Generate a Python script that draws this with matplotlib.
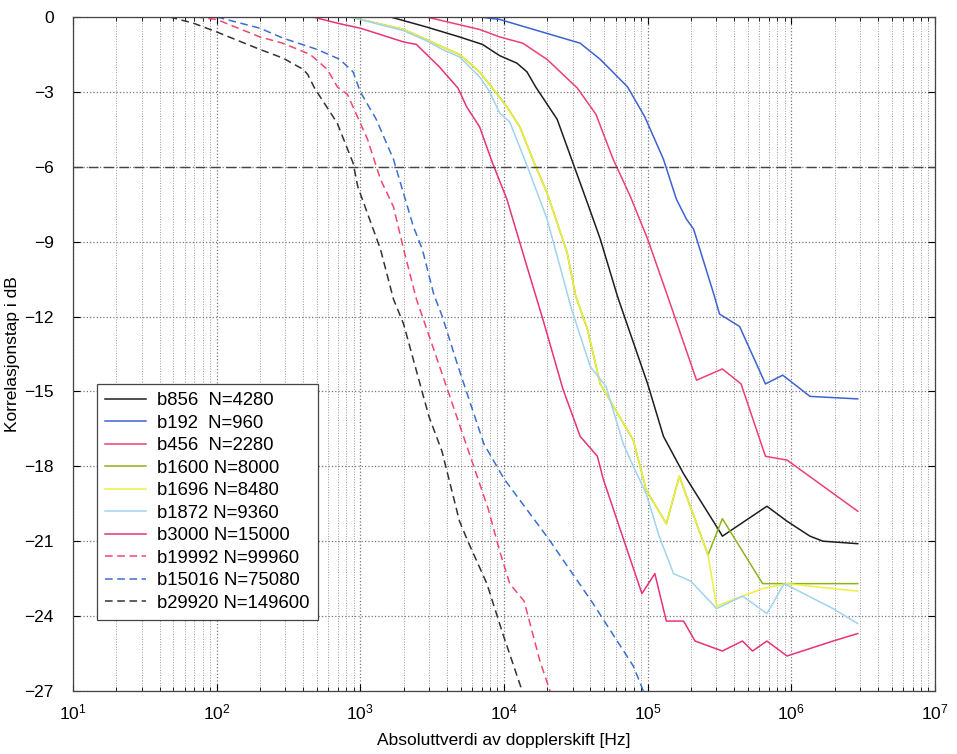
import numpy as np
import matplotlib.pyplot as plt
from matplotlib.ticker import LogLocator, NullFormatter

plt.rcParams['font.family'] = ['Liberation Sans', 'DejaVu Sans']

# data: frequency [Hz], loss [dB]
f_b856 = [1620, 2880, 4900, 7080, 9330, 12300, 14450, 16600, 23440, 30200, 38900, 46800,
          61700, 100000, 128800, 177800, 316200, 331100, 676100, 933300, 1349000, 1660000, 2900000]
db_b856 = [0, -0.4, -0.8, -1.1, -1.55, -1.85, -2.2, -2.8, -4.1, -5.85, -7.6, -8.9,
           -11.2, -14.7, -16.8, -18.3, -20.6, -20.8, -19.6, -20.2, -20.8, -21.0, -21.1]

f_b192 = [6760, 9330, 33880, 46800, 72400, 95500, 128800, 158500, 186200, 208900, 288400,
          316200, 436500, 660700, 871000, 1349000, 2900000]
db_b192 = [0, -0.1, -1.05, -1.7, -2.8, -4.0, -5.7, -7.3, -8.1, -8.5, -11.1,
           -11.9, -12.4, -14.7, -14.35, -15.2, -15.3]

f_b456 = [2880, 6760, 9330, 13490, 19950, 32400, 43650, 57500, 75900, 100000, 138000,
          218800, 331100, 446700, 660700, 933300, 2900000]
db_b456 = [0, -0.5, -0.8, -1.05, -1.7, -2.85, -3.9, -5.7, -7.2, -8.9, -11.2,
           -14.55, -14.1, -14.7, -17.6, -17.75, -19.8]

f_b1600 = [851, 2000, 2880, 3720, 4900, 6760, 8320, 10470, 12880, 15850, 19950, 27540,
           31620, 38020, 46770, 79430, 97720, 134900, 166000, 263000, 331100, 631000,
           933300, 2900000]
db_b1600 = [0, -0.5, -0.9, -1.2, -1.5, -2.2, -2.85, -3.6, -4.4, -5.7, -7.05, -9.45,
            -11.2, -12.5, -14.7, -16.95, -18.95, -20.3, -18.4, -21.55, -20.1, -22.7,
            -22.7, -22.7]

f_b1696 = [851, 2000, 2880, 3720, 4900, 6760, 8320, 10470, 12880, 15850, 19950, 27540,
           31620, 38020, 46770, 79430, 97720, 134900, 166000, 263000, 302000, 457100,
           631000, 933300, 1950000, 2900000]
db_b1696 = [0, -0.5, -0.9, -1.2, -1.5, -2.2, -2.85, -3.6, -4.4, -5.7, -7.05, -9.45,
            -11.2, -12.5, -14.7, -16.95, -18.95, -20.3, -18.4, -21.55, -23.6, -23.2,
            -22.9, -22.7, -22.9, -23.0]

f_b1872 = [851, 2000, 2880, 3720, 4900, 6760, 7940, 9330, 10960, 14790, 19950, 29510,
           39810, 51300, 67600, 75860, 97720, 120200, 151400, 199500, 302000, 457100,
           676100, 891300, 1950000, 2900000]
db_b1872 = [0, -0.55, -0.95, -1.3, -1.6, -2.4, -3.0, -3.85, -4.2, -6.1, -8.1, -11.7,
            -14.0, -14.8, -17.1, -17.75, -19.1, -20.8, -22.3, -22.6, -23.7, -23.2,
            -23.9, -22.7, -23.7, -24.3]

f_b3000 = [468, 692, 1000, 2000, 2455, 3548, 4786, 5495, 6761, 8318, 10470, 14450, 18620,
           25700, 33880, 44670, 48980, 64570, 91200, 112200, 134900, 177800, 213800,
           331100, 457100, 537000, 676100, 933300, 1950000, 2900000]
db_b3000 = [0, -0.25, -0.45, -1.0, -1.1, -2.0, -2.85, -3.6, -4.4, -5.85, -7.3, -10.0, -12.1,
            -14.9, -16.8, -17.6, -18.5, -20.55, -23.1, -22.3, -24.2, -24.2, -25.0,
            -25.4, -25.0, -25.4, -25.0, -25.6, -25.0, -24.7]

f_b19992 = [72, 100, 200, 288, 447, 589, 692, 813, 955, 1122, 1380, 1700, 2000, 2455,
            3236, 5012, 7762, 9333, 10965, 13800, 17780, 20900]
db_b19992 = [0, -0.1, -0.8, -1.05, -1.5, -2.1, -2.8, -3.1, -4.0, -4.9, -6.5, -7.6, -9.3, -11.3,
             -13.3, -16.5, -19.7, -21.4, -22.7, -23.4, -25.8, -27.0]

f_b15016 = [100, 200, 290, 500, 720, 890, 1000, 1290, 1700, 2340, 2700, 3240, 3720, 4790,
            7240, 10000, 20400, 41700, 79400, 93300]
db_b15016 = [0, -0.45, -0.85, -1.3, -1.7, -2.2, -3.0, -4.1, -5.7, -8.4, -9.3, -11.1, -12.0,
             -14.0, -17.1, -18.5, -20.9, -23.5, -26.0, -27.0]

f_b29920 = [47, 69, 100, 200, 290, 400, 430, 480, 690, 890, 960, 1380, 1700, 2000, 3000,
            3700, 4900, 5600, 7600, 9800, 13200]
db_b29920 = [0, -0.25, -0.6, -1.3, -1.65, -2.1, -2.3, -2.85, -4.25, -5.85, -6.8, -9.3, -11.3,
             -12.3, -16.0, -17.4, -20.2, -21.0, -22.7, -24.7, -26.9]

x_ticks = [1e1, 1e2, 1e3, 1e4, 1e5, 1e6, 1e7]

series = [
    ('b856  N=4280', f_b856, db_b856, '#1e1e1e', '-'),
    ('b192  N=960', f_b192, db_b192, '#3c62d2', '-'),
    ('b456  N=2280', f_b456, db_b456, '#ee3f72', '-'),
    ('b1600 N=8000', f_b1600, db_b1600, '#8cb21e', '-'),
    ('b1696 N=8480', f_b1696, db_b1696, '#eef03a', '-'),
    ('b1872 N=9360', f_b1872, db_b1872, '#9fd3f0', '-'),
    ('b3000 N=15000', f_b3000, db_b3000, '#e83278', '-'),
    ('b19992 N=99960', f_b19992, db_b19992, '#f2476a', '--'),
    ('b15016 N=75080', f_b15016, db_b15016, '#3a6fd0', '--'),
    ('b29920 N=149600', f_b29920, db_b29920, '#333333', '--'),
]

fig = plt.figure(figsize=(9.57, 7.54), dpi=100)
ax = fig.add_axes([0.0763, 0.0836, 0.9007, 0.8939])

for lab, f, d, c, ls in series:
    if ls == '--':
        ax.semilogx(f, d, color=c, linestyle=ls, dashes=(5, 3), linewidth=1.1, label=lab)
    else:
        ax.semilogx(f, d, color=c, linestyle=ls, linewidth=1.1, label=lab)

ax.axhline(-6, color='#444444', linestyle='--', dashes=(7, 4), linewidth=1.0)

ax.set_xlim(10, 1e7)
ax.set_ylim(-27, 0)
ax.set_yticks(np.arange(-27, 1, 3))
ax.set_xticks(x_ticks)
ax.xaxis.set_minor_locator(LogLocator(base=10, subs=np.arange(2, 10), numticks=100))
ax.xaxis.set_minor_formatter(NullFormatter())
ax.grid(True, which='major', linestyle=':', color='#777777', linewidth=0.9)
ax.grid(True, which='minor', axis='x', linestyle=':', color='#999999', linewidth=0.7)
ax.tick_params(which='both', direction='in', top=True, right=True, labelsize=12.5)
ax.tick_params(which='major', length=5)
ax.tick_params(which='minor', length=3)
ax.tick_params(axis='y', pad=14)
ax.tick_params(axis='x', pad=8)
for s in ax.spines.values():
    s.set_linewidth(0.9)
    s.set_color('#444444')

ax.set_xlabel('Absoluttverdi av dopplerskift [Hz]', fontsize=12.5, labelpad=8)
ax.set_ylabel('Korrelasjonstap i dB', fontsize=12.5)
ax.yaxis.set_label_coords(-0.062, 0.5)

leg = ax.legend(loc='lower left', bbox_to_anchor=(0.028, 0.105), borderaxespad=0,
                fontsize=13.3, fancybox=False, edgecolor='#444444', framealpha=1,
                handlelength=2.2, labelspacing=0.3, borderpad=0.45, handletextpad=0.6)
leg.get_frame().set_linewidth(0.9)

fig.savefig('out.png', dpi=100)
